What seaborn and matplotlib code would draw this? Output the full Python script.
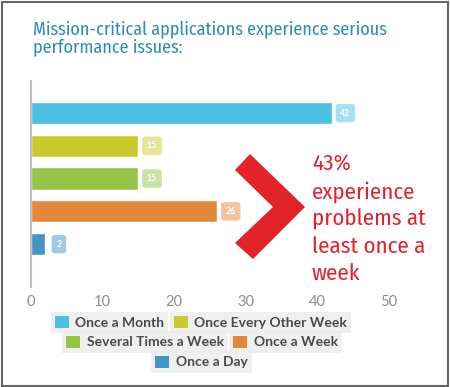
import matplotlib
matplotlib.use("Agg")
import matplotlib.pyplot as plt
from matplotlib import font_manager
from matplotlib.patches import Polygon, Rectangle, Patch
import matplotlib.colors as mcolors
import seaborn as sns
import pandas as pd
import numpy as np

categories = ["Once a Month", "Once Every Other Week", "Several Times a Week", "Once a Week", "Once a Day"]
values = [42, 15, 15, 26, 2]
colors = ["#4cc0e2", "#c9cb2c", "#94c447", "#e4883b", "#3f95c3"]
xticks = [0, 10, 20, 30, 40, 50]
title = "Mission-critical applications experience serious\nperformance issues:"
callout = "43%\nexperience\nproblems at\nleast once a\nweek"

sns.set_style("white")
plt.rcParams['font.family'] = ['Lato', 'DejaVu Sans']

available = {f.name for f in font_manager.fontManager.ttflist}
narrow_pref = ["Fira Sans Condensed", "PT Sans Narrow", "Encode Sans Condensed",
               "Roboto Condensed", "Open Sans Condensed", "Barlow Condensed",
               "Archivo Narrow", "Asap Condensed", "Sofia Sans Condensed", "Oswald"]
narrow = next((n for n in narrow_pref if n in available), "DejaVu Sans")

W, H = 450, 387
fig = plt.figure(figsize=(W / 100, H / 100), dpi=100)

def fx(px):
    return px / W

def fy(py):
    return 1 - py / H

ax = fig.add_axes([fx(31), fy(287), fx(389) - fx(31), fy(81) - fy(287)])
df = pd.DataFrame({"cat": categories, "value": values})
pal = dict(zip(categories, colors))
sns.barplot(data=df, x="value", y="cat", hue="cat", palette=pal, order=categories,
            hue_order=categories, width=0.68, dodge=False, legend=False, ax=ax,
            saturation=1)
ax.set_xlim(0, 50)
ax.set_ylim(5.31, -0.98)
ax.set_xticks(xticks)
ax.set_xticklabels([str(t) for t in xticks], color="#8c8c8c", fontsize=10.5)
ax.tick_params(axis="x", length=0, pad=6)
ax.set_yticks([])
ax.set_xlabel("")
ax.set_ylabel("")
for s in ["top", "right", "bottom"]:
    ax.spines[s].set_visible(False)
ax.spines["left"].set_color("#bdbdbd")
ax.spines["left"].set_linewidth(1.5)

# value tags
for i, (v, c) in enumerate(zip(values, colors)):
    light = np.array(mcolors.to_rgb(c)) * 0.5 + 0.5
    ax.text(v + 1.9, i, str(v), ha="center", va="center", fontsize=6.2, color="white",
            fontweight="bold",
            bbox=dict(boxstyle="round,pad=0.55,rounding_size=0.35", facecolor=light, edgecolor="none"))

# title
fig.text(fx(33), fy(20), title, ha="left", va="top", fontsize=13, color="#2a8db3",
         family=[narrow, "DejaVu Sans"], linespacing=1.0)

# chevron
pts = [(235, 170), (250, 154), (305, 207), (253, 259), (235, 243), (273, 207)]
fig.patches.append(Polygon([(fx(x), fy(y)) for x, y in pts], closed=True,
                           transform=fig.transFigure, facecolor="#e3232a", edgecolor="none"))

# callout text
fig.text(fx(312), fy(153), callout, ha="left", va="top", fontsize=16.5, color="#e3232a",
         family=[narrow, "DejaVu Sans"], linespacing=1.36)

# legend items
leg_pos = [(109.5, 322.5), (260.5, 322.5), (145, 342), (285.5, 342), (201.5, 362)]
for cat, col, (px, py) in zip(categories, colors, leg_pos):
    leg = fig.legend([Patch(facecolor=col, edgecolor="none")], [cat], loc="center",
                     bbox_to_anchor=(fx(px), fy(py)), bbox_transform=fig.transFigure,
                     fontsize=10, frameon=True, fancybox=False, handlelength=1.0,
                     handleheight=1.0, handletextpad=0.45, borderpad=0.3,
                     borderaxespad=0)
    leg.get_frame().set_facecolor("#ececec")
    leg.get_frame().set_edgecolor("none")
    for t in leg.get_texts():
        t.set_color("#4a4a4a")
        t.set_fontweight("bold")

# outer border
fig.patches.append(Rectangle((fx(1.5), fy(385.5)), fx(446), fy(0) - fy(384), transform=fig.transFigure,
                             facecolor="none", edgecolor="#666666", linewidth=1.5))

fig.savefig("out.png", dpi=100)
